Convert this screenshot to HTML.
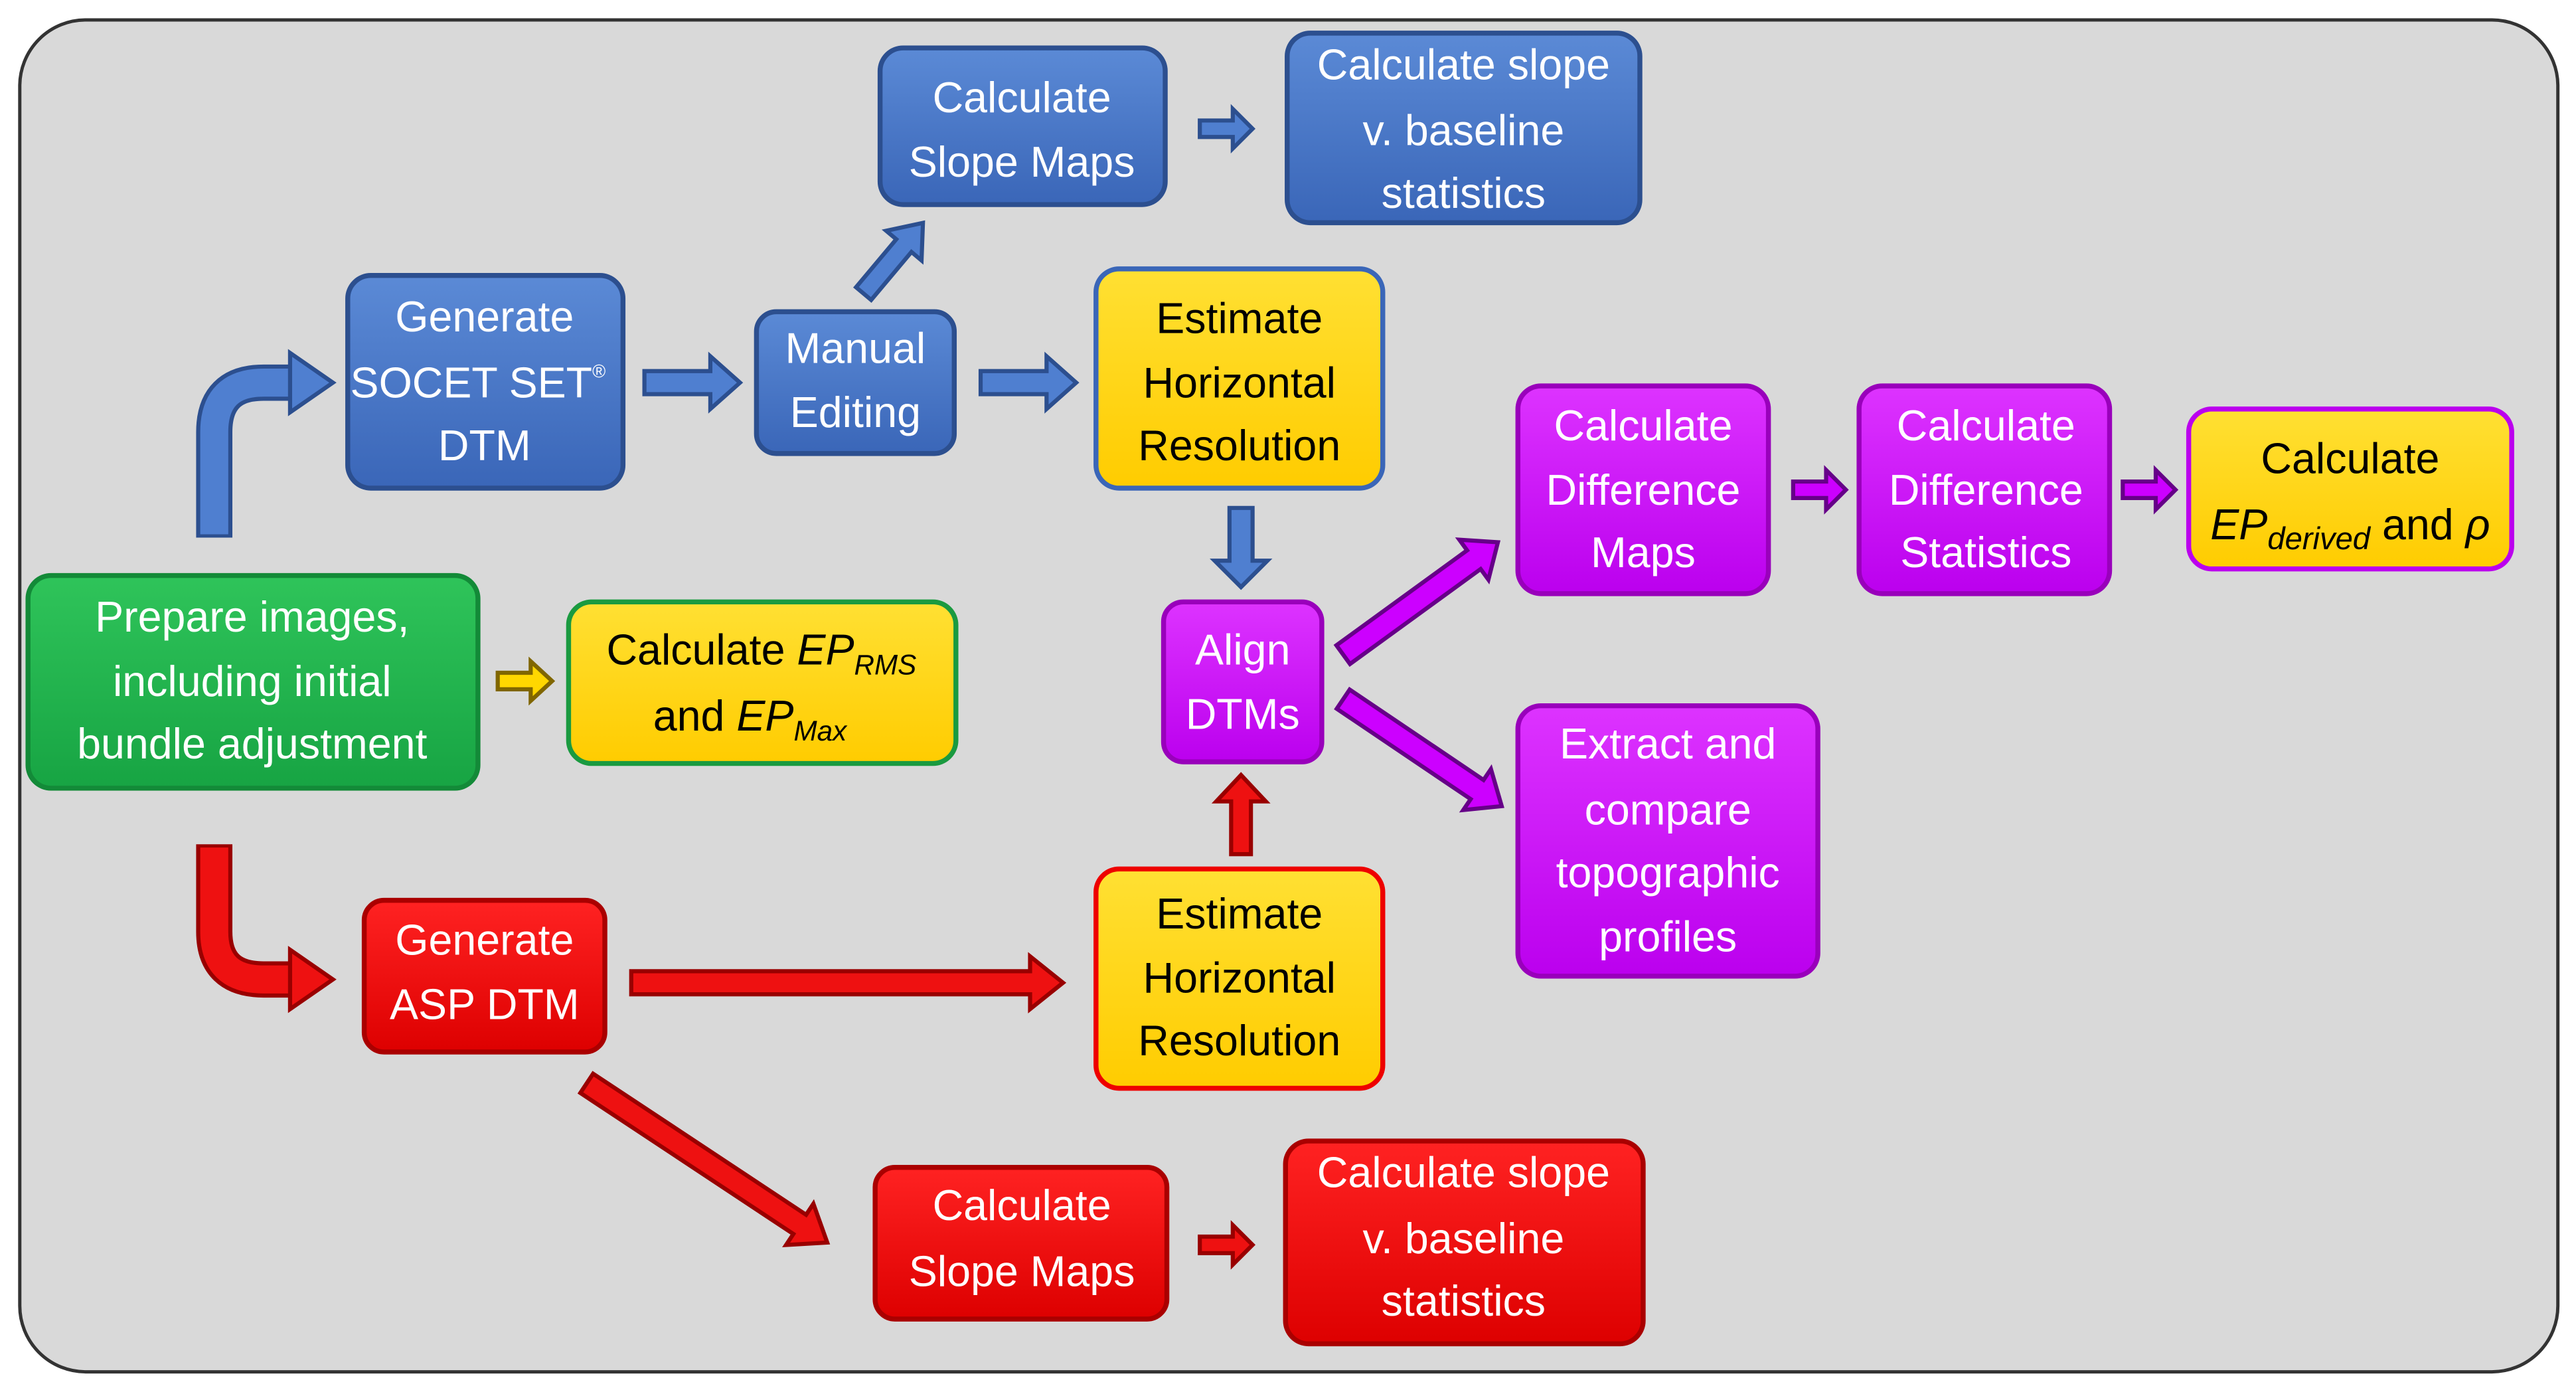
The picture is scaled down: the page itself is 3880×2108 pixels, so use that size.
<!DOCTYPE html>
<html><head><meta charset="utf-8"><style>
html,body{margin:0;padding:0;background:#fff;}
svg{display:block;}
text{font-family:"Liberation Sans",sans-serif;font-size:26px;text-anchor:middle;}
.w{fill:#fff;}
.k{fill:#000;}
</style></head><body>
<svg width="3880" height="2108" viewBox="0 0 1563 849" xmlns="http://www.w3.org/2000/svg">
<defs>
<linearGradient id="gb" x1="0" y1="0" x2="0" y2="1"><stop offset="0" stop-color="#5b8ad6"/><stop offset="1" stop-color="#3a66b8"/></linearGradient>
<linearGradient id="gg" x1="0" y1="0" x2="0" y2="1"><stop offset="0" stop-color="#2fc45a"/><stop offset="1" stop-color="#17a443"/></linearGradient>
<linearGradient id="gy" x1="0" y1="0" x2="0" y2="1"><stop offset="0" stop-color="#ffe033"/><stop offset="1" stop-color="#ffcc00"/></linearGradient>
<linearGradient id="gm" x1="0" y1="0" x2="0" y2="1"><stop offset="0" stop-color="#dd33ff"/><stop offset="1" stop-color="#bb00ee"/></linearGradient>
<linearGradient id="gr" x1="0" y1="0" x2="0" y2="1"><stop offset="0" stop-color="#ff2222"/><stop offset="1" stop-color="#dd0000"/></linearGradient>
</defs>
<rect x="0" y="0" width="1563" height="849" fill="#fff"/>
<rect x="12" y="12" width="1540" height="820" rx="40" fill="#d9d9d9" stroke="#333" stroke-width="2"/>

<!-- boxes -->
<g stroke-width="3">
<rect x="17" y="349" width="273" height="129" rx="14" fill="url(#gg)" stroke="#138a38"/>
<rect x="345" y="365" width="235" height="98" rx="14" fill="url(#gy)" stroke="#1a9a40"/>
<rect x="211" y="167" width="167" height="129" rx="14" fill="url(#gb)" stroke="#2c4f8f"/>
<rect x="459" y="189" width="120" height="86" rx="12" fill="url(#gb)" stroke="#2c4f8f"/>
<rect x="534" y="29" width="173" height="95" rx="14" fill="url(#gb)" stroke="#2c4f8f"/>
<rect x="781" y="20" width="214" height="115" rx="14" fill="url(#gb)" stroke="#2c4f8f"/>
<rect x="665" y="163" width="174" height="133" rx="14" fill="url(#gy)" stroke="#3a66b8"/>
<rect x="706" y="365" width="96" height="97" rx="12" fill="url(#gm)" stroke="#9900bb"/>
<rect x="921" y="234" width="152" height="126" rx="14" fill="url(#gm)" stroke="#9900bb"/>
<rect x="1128" y="234" width="152" height="126" rx="14" fill="url(#gm)" stroke="#9900bb"/>
<rect x="1328" y="248" width="196" height="97" rx="14" fill="url(#gy)" stroke="#bb00ee"/>
<rect x="921" y="428" width="182" height="164" rx="14" fill="url(#gm)" stroke="#9900bb"/>
<rect x="221" y="546" width="146" height="92" rx="12" fill="url(#gr)" stroke="#aa0000"/>
<rect x="665" y="527" width="174" height="133" rx="14" fill="url(#gy)" stroke="#ee0000"/>
<rect x="531" y="708" width="177" height="92" rx="12" fill="url(#gr)" stroke="#aa0000"/>
<rect x="780" y="692" width="217" height="123" rx="14" fill="url(#gr)" stroke="#aa0000"/>
</g>

<!-- text -->
<text class="w" x="153" y="383">Prepare images,</text>
<text class="w" x="153" y="422">including initial</text>
<text class="w" x="153" y="460">bundle adjustment</text>
<text class="k" x="462" y="403">Calculate <tspan font-style="italic">EP</tspan><tspan font-style="italic" font-size="17" dy="6">RMS</tspan></text>
<text class="k" x="455" y="443">and <tspan font-style="italic">EP</tspan><tspan font-style="italic" font-size="17" dy="6">Max</tspan></text>
<text class="w" x="294" y="201">Generate</text>
<text class="w" x="290" y="241">SOCET SET<tspan font-size="11" dy="-12">®</tspan></text>
<text class="w" x="294" y="279">DTM</text>
<text class="w" x="519" y="220">Manual</text>
<text class="w" x="519" y="259">Editing</text>
<text class="w" x="620" y="68">Calculate</text>
<text class="w" x="620" y="107">Slope Maps</text>
<text class="w" x="888" y="48">Calculate slope</text>
<text class="w" x="888" y="88">v. baseline</text>
<text class="w" x="888" y="126">statistics</text>
<text class="k" x="752" y="202">Estimate</text>
<text class="k" x="752" y="241">Horizontal</text>
<text class="k" x="752" y="279">Resolution</text>
<text class="w" x="754" y="403">Align</text>
<text class="w" x="754" y="442">DTMs</text>
<text class="w" x="997" y="267">Calculate</text>
<text class="w" x="997" y="306">Difference</text>
<text class="w" x="997" y="344">Maps</text>
<text class="w" x="1205" y="267">Calculate</text>
<text class="w" x="1205" y="306">Difference</text>
<text class="w" x="1205" y="344">Statistics</text>
<text class="k" x="1426" y="287">Calculate</text>
<text class="k" x="1426" y="327"><tspan font-style="italic">EP</tspan><tspan font-style="italic" font-size="19" dy="6">derived</tspan><tspan dy="-6"> and </tspan><tspan font-style="italic">ρ</tspan></text>
<text class="w" x="1012" y="460">Extract and</text>
<text class="w" x="1012" y="500">compare</text>
<text class="w" x="1012" y="538">topographic</text>
<text class="w" x="1012" y="577">profiles</text>
<text class="w" x="294" y="579">Generate</text>
<text class="w" x="294" y="618">ASP DTM</text>
<text class="k" x="752" y="563">Estimate</text>
<text class="k" x="752" y="602">Horizontal</text>
<text class="k" x="752" y="640">Resolution</text>
<text class="w" x="620" y="740">Calculate</text>
<text class="w" x="620" y="780">Slope Maps</text>
<text class="w" x="888" y="720">Calculate slope</text>
<text class="w" x="888" y="760">v. baseline</text>
<text class="w" x="888" y="798">statistics</text>

<!-- curved arrows -->
<path d="M130,326 L130,262 Q130,232 160,232 L178,232" fill="none" stroke="#2c4f8f" stroke-width="22"/>
<path d="M130,324 L130,262 Q130,232 160,232 L180,232" fill="none" stroke="#4f7fd0" stroke-width="17"/>
<polygon points="176,214 202,232 176,250" fill="#4f7fd0" stroke="#2c4f8f" stroke-width="2.5"/>
<path d="M130,512 L130,565 Q130,594 160,594 L178,594" fill="none" stroke="#990000" stroke-width="22"/>
<path d="M130,514 L130,565 Q130,594 160,594 L180,594" fill="none" stroke="#ee1111" stroke-width="17"/>
<polygon points="176,576 202,594 176,612" fill="#ee1111" stroke="#990000" stroke-width="2.5"/>

<!-- straight arrows: shape along +x from 0 to L -->
<g stroke-width="2.5">
<!-- blue -->
<polygon transform="translate(391,232)" points="0,-7 40,-7 40,-16 58,0 40,16 40,7 0,7" fill="#4f7fd0" stroke="#2c4f8f"/>
<polygon transform="translate(595,232)" points="0,-7 40,-7 40,-16 58,0 40,16 40,7 0,7" fill="#4f7fd0" stroke="#2c4f8f"/>
<polygon transform="translate(524,178) rotate(-50)" points="0,-6 38,-6 38,-14 56,0 38,14 38,6 0,6" fill="#4f7fd0" stroke="#2c4f8f"/>
<polygon transform="translate(728,78)" points="0,-5 20,-5 20,-12 32,0 20,12 20,5 0,5" fill="#4f7fd0" stroke="#2c4f8f"/>
<polygon transform="translate(753,308) rotate(90)" points="0,-7 32,-7 32,-16 48,0 32,16 32,7 0,7" fill="#4f7fd0" stroke="#2c4f8f"/>
<!-- yellow -->
<polygon transform="translate(302,413)" points="0,-5 20,-5 20,-12 33,0 20,12 20,5 0,5" fill="#ffd700" stroke="#806600"/>
<!-- magenta -->
<polygon transform="translate(815,397) rotate(-36)" points="0,-7 98,-7 98,-15 116,0 98,15 98,7 0,7" fill="#cc00ff" stroke="#660088"/>
<polygon transform="translate(815,424) rotate(34)" points="0,-7 98,-7 98,-15 116,0 98,15 98,7 0,7" fill="#cc00ff" stroke="#660088"/>
<polygon transform="translate(1088,297)" points="0,-5 20,-5 20,-12 32,0 20,12 20,5 0,5" fill="#cc00ff" stroke="#660088"/>
<polygon transform="translate(1288,297)" points="0,-5 20,-5 20,-12 32,0 20,12 20,5 0,5" fill="#cc00ff" stroke="#660088"/>
<!-- red -->
<polygon transform="translate(753,518) rotate(-90)" points="0,-6 32,-6 32,-15 48,0 32,15 32,6 0,6" fill="#ee1111" stroke="#990000"/>
<polygon transform="translate(383,596)" points="0,-7 242,-7 242,-16 262,0 242,16 242,7 0,7" fill="#ee1111" stroke="#990000"/>
<polygon transform="translate(356,657) rotate(33.5)" points="0,-7 155,-7 155,-15 175,0 155,15 155,7 0,7" fill="#ee1111" stroke="#990000"/>
<polygon transform="translate(728,755)" points="0,-5 20,-5 20,-12 32,0 20,12 20,5 0,5" fill="#ee1111" stroke="#990000"/>
</g>
</svg>
</body></html>
